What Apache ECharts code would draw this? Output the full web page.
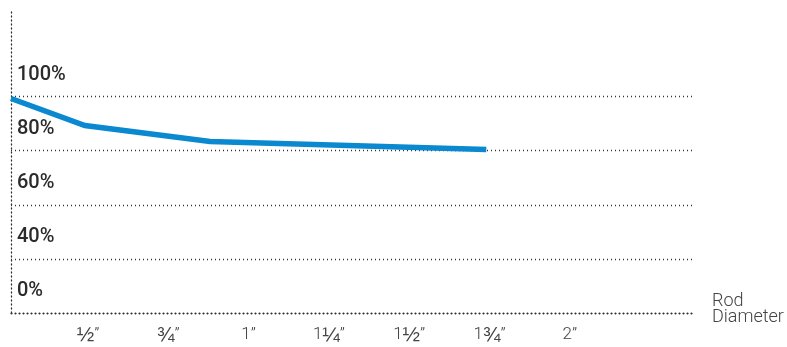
<!DOCTYPE html>
<html>
<head>
<meta charset="utf-8">
<script src="https://cdn.jsdelivr.net/npm/echarts@6/dist/echarts.min.js"></script>
<style>html,body{margin:0;padding:0;background:#fff;}#c{width:787px;height:347px;}</style>
</head>
<body>
<div id="c"></div>
<script>
// Data
const xTickValues = [0.5, 0.75, 1, 1.25, 1.5, 1.75, 2];
const xTickLabels = ['½”', '¾”', '1”', '1¼”', '1½”', '1¾”', '2”'];
const yTickPercents = [0, 40, 60, 80, 100];
const yTickLabels = ['0%', '40%', '60%', '80%', '100%'];
const rodDiameter = [0.26, 0.49, 0.88, 1.74];
const relativeValue = [99.3, 89.3, 83.4, 80.4];
const xAxisTitle = ['Rod', 'Diameter'];

// The y axis is broken (0%, 40%, 60%, 80%, 100% equally spaced): map percent to tick index.
function pctToIndex(p) {
  for (let i = 1; i < yTickPercents.length; i++) {
    if (p <= yTickPercents[i]) {
      const a = yTickPercents[i - 1], b = yTickPercents[i];
      return (i - 1) + (p - a) / (b - a);
    }
  }
  return yTickPercents.length - 1;
}
const yIdx = yTickPercents.map((_, i) => i);

// style fraction glyphs with a larger rich-text style
function styleLabel(s) {
  return s.replace(/[^½¼¾]+/g, m => '{d|' + m + '}').replace(/[½¼¾]/g, m => '{f|' + m + '}');
}

const dotted = { type: [1, 3], width: 1.3, color: '#333' };

const chart = echarts.init(document.getElementById('c'), null, { renderer: 'canvas' });
chart.setOption({
  animation: false,
  grid: { left: 11, right: 92, top: 10, bottom: 34, containLabel: false },
  xAxis: {
    type: 'value',
    min: 0.26,
    max: 2.39,
    name: xAxisTitle.map(s => '{a|' + s + '}').join('\n') + '\n{b|}',
    nameLocation: 'end',
    nameGap: 17,
    nameTextStyle: {
      align: 'left', verticalAlign: 'middle',
      rich: {
        a: { fontSize: 18, lineHeight: 16, color: '#444', fontFamily: 'Roboto', fontWeight: 300 },
        b: { fontSize: 1, lineHeight: 8 }
      }
    },
    axisLine: { show: true, lineStyle: dotted },
    axisTick: { show: false, customValues: xTickValues },
    splitLine: { show: false },
    axisLabel: {
      customValues: xTickValues,
      formatter: v => { const i = xTickValues.findIndex(t => Math.abs(t - v) < 1e-6); return i >= 0 ? styleLabel(xTickLabels[i]) : ''; },
      margin: 11,
      rich: {
        d: { fontSize: 17, color: '#444', fontFamily: 'Roboto', fontWeight: 300, lineHeight: 22 },
        f: { fontSize: 21, color: '#444', fontFamily: 'Liberation Sans', fontWeight: 'normal', lineHeight: 22 }
      }
    }
  },
  yAxis: {
    type: 'value',
    min: 0,
    max: 5.6,
    axisLine: { show: true, lineStyle: dotted },
    axisTick: { show: false, customValues: yIdx },
    splitLine: { show: true, lineStyle: dotted },
    axisLabel: {
      customValues: yIdx,
      inside: true,
      formatter: v => yTickLabels[Math.round(v)] || '',
      fontSize: 20, color: '#2b2b2b', fontFamily: 'Roboto', fontWeight: 500,
      align: 'left', verticalAlign: 'bottom', margin: 6, padding: [0, 0, 12, 0]
    }
  },
  series: [{
    type: 'line',
    data: rodDiameter.map((x, i) => [x, pctToIndex(relativeValue[i])]),
    showSymbol: false,
    lineStyle: { width: 5.5, color: '#0a88d0', cap: 'butt', join: 'miter' },
    z: 3
  }]
});
</script>
</body>
</html>
